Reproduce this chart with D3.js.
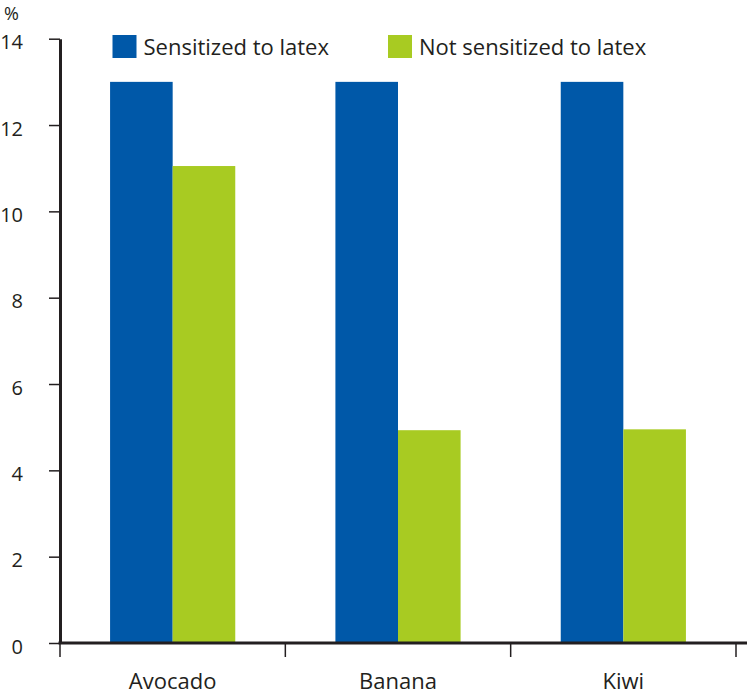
<!DOCTYPE html>
<html>
<head>
<meta charset="utf-8">
<script src="https://cdn.jsdelivr.net/npm/d3@7"></script>
<style>
  html, body { margin: 0; padding: 0; background: #fff; }
  svg { display: block; }
  text { font-family: "Open Sans", "Noto Sans", sans-serif; fill: #231f20; }
</style>
</head>
<body>
<svg id="chart" width="747" height="696"></svg>
<script>
const categories = ["Avocado", "Banana", "Kiwi"];
const seriesNames = ["Sensitized to latex", "Not sensitized to latex"];
const sensitized = [13.0, 13.0, 13.0];
const notSensitized = [11.05, 4.93, 4.95];
const yTicks = [0, 2, 4, 6, 8, 10, 12, 14];
const colors = ["#0058a8", "#a8cb22"];

const svg = d3.select("#chart");
const axisColor = "#231f20";

const x = d3.scaleBand().domain(categories).range([60, 736]).paddingInner(0).paddingOuter(0);
const inner = d3.scaleBand().domain([0, 1]).range([0, x.bandwidth()]).paddingInner(0).paddingOuter(0.8);
const y = d3.scaleLinear().domain([0, 14]).range([643, 38.7]);

const series = [sensitized, notSensitized];

// bars
series.forEach((vals, si) => {
  svg.append("g").selectAll("rect").data(vals).join("rect")
    .attr("x", (d, i) => x(categories[i]) + inner(si))
    .attr("width", inner.bandwidth())
    .attr("y", d => y(d))
    .attr("height", d => y(0) - y(d))
    .attr("fill", colors[si]);
});

// y axis
const yAxis = svg.append("g").attr("transform", "translate(60,0)")
  .call(d3.axisLeft(y).tickValues(yTicks).tickSize(11).tickPadding(26).tickSizeOuter(0));
yAxis.select(".domain").attr("stroke", axisColor).attr("stroke-width", 3);
yAxis.selectAll(".tick line").attr("stroke", axisColor).attr("stroke-width", 1.5);
yAxis.selectAll(".tick text").style("font-size", "20px").attr("fill", axisColor)
  .attr("dy", "0.5em")
  .style("font-family", '"Open Sans", sans-serif');

// x axis line
svg.append("line").attr("x1", 58.5).attr("x2", 747).attr("y1", y(0)).attr("y2", y(0))
  .attr("stroke", axisColor).attr("stroke-width", 3);

// x boundary ticks
const bounds = categories.map(c => x(c)).concat([x.range()[1]]);
svg.append("g").selectAll("line").data(bounds).join("line")
  .attr("x1", d => d).attr("x2", d => d)
  .attr("y1", y(0)).attr("y2", y(0) + 14)
  .attr("stroke", axisColor).attr("stroke-width", 1.5);

// x labels
svg.append("g").selectAll("text").data(categories).join("text")
  .attr("x", d => x(d) + x.bandwidth() / 2)
  .attr("y", 689)
  .attr("text-anchor", "middle")
  .style("font-size", "22px")
  .text(d => d);

// % label
svg.append("text").attr("x", 4).attr("y", 19.5).style("font-size", "18px").text("%");

// legend
const legendX = [112.5, 388];
seriesNames.forEach((name, i) => {
  svg.append("rect").attr("x", legendX[i]).attr("y", 35).attr("width", 24).attr("height", 23)
    .attr("fill", colors[i]);
  svg.append("text").attr("x", legendX[i] + 31).attr("y", 54.5)
    .style("font-size", "22px").text(name);
});
</script>
</body>
</html>
